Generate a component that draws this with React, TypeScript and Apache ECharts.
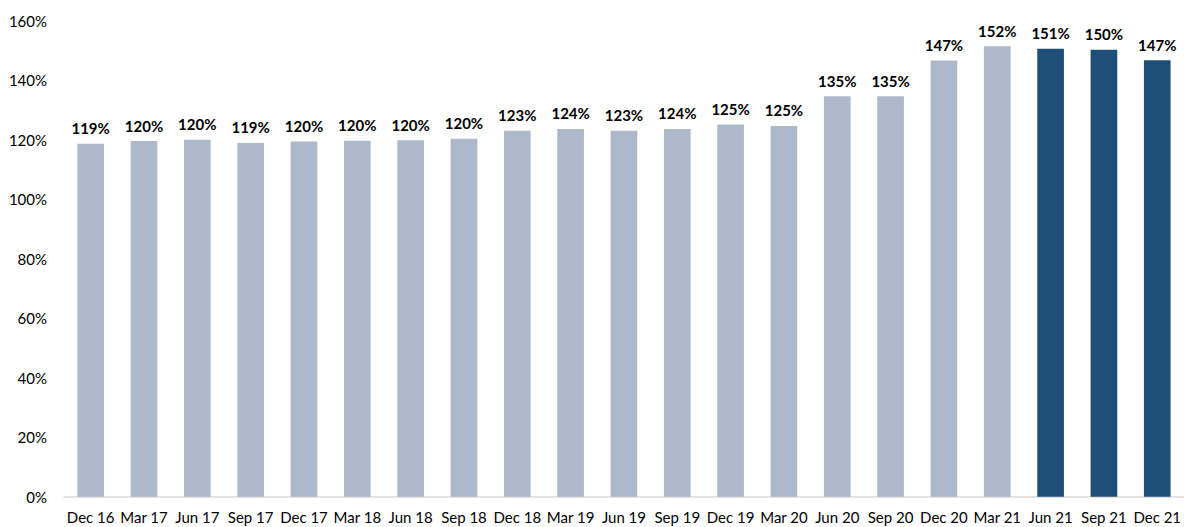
import React, { useEffect, useRef } from "react";
import * as echarts from "echarts";

const categories = [
  "Dec 16", "Mar 17", "Jun 17", "Sep 17", "Dec 17", "Mar 18", "Jun 18", "Sep 18",
  "Dec 18", "Mar 19", "Jun 19", "Sep 19", "Dec 19", "Mar 20", "Jun 20", "Sep 20",
  "Dec 20", "Mar 21", "Jun 21", "Sep 21", "Dec 21",
];
const values = [
  118.7, 119.6, 120.1, 119.0, 119.5, 119.7, 119.9, 120.4,
  123.1, 123.7, 123.1, 123.7, 125.2, 124.7, 134.7, 134.7,
  146.7, 151.5, 150.7, 150.3, 146.8,
];
const highlighted = ["Jun 21", "Sep 21", "Dec 21"];
const yTicks = { min: 0, max: 160, interval: 20 };

const LIGHT = "#adb9ca";
const DARK = "#1f4e79";
const FONT = "Lato, 'Open Sans', sans-serif";

export default function App() {
  const ref = useRef<HTMLDivElement>(null);
  useEffect(() => {
    if (!ref.current) return;
    const chart = echarts.init(ref.current, undefined, { renderer: "svg" });
    chart.setOption({
      animation: false,
      grid: { left: 64, top: 21, width: 1122.6, bottom: 30.3, containLabel: false },
      xAxis: {
        type: "category",
        data: categories,
        axisLine: { lineStyle: { color: "#d9d9d9", width: 1.5 } },
        axisTick: { show: false },
        axisLabel: { color: "#000", fontSize: 15, fontFamily: FONT, margin: 13, interval: 0 },
      },
      yAxis: {
        type: "value",
        min: yTicks.min,
        max: yTicks.max,
        interval: yTicks.interval,
        splitLine: { show: false },
        axisLine: { show: false },
        axisTick: { show: false },
        axisLabel: {
          color: "#000",
          fontSize: 15,
          fontFamily: FONT,
          margin: 17,
          formatter: (v: number) => `${v}%`,
        },
      },
      series: [
        {
          type: "bar",
          barWidth: "50%",
          data: values.map((v, i) => ({
            value: v,
            itemStyle: { color: highlighted.includes(categories[i]) ? DARK : LIGHT },
          })),
          label: {
            show: true,
            position: "top",
            distance: 8,
            color: "#000",
            fontWeight: "bold",
            fontSize: 15,
            fontFamily: FONT,
            formatter: (p: any) => `${Math.round(p.value)}%`,
          },
        },
      ],
    });
    return () => chart.dispose();
  }, []);
  return (
    <div
      ref={ref}
      style={{ position: "absolute", left: 0, top: 0, width: 1184, height: 527, background: "#fff" }}
    />
  );
}
